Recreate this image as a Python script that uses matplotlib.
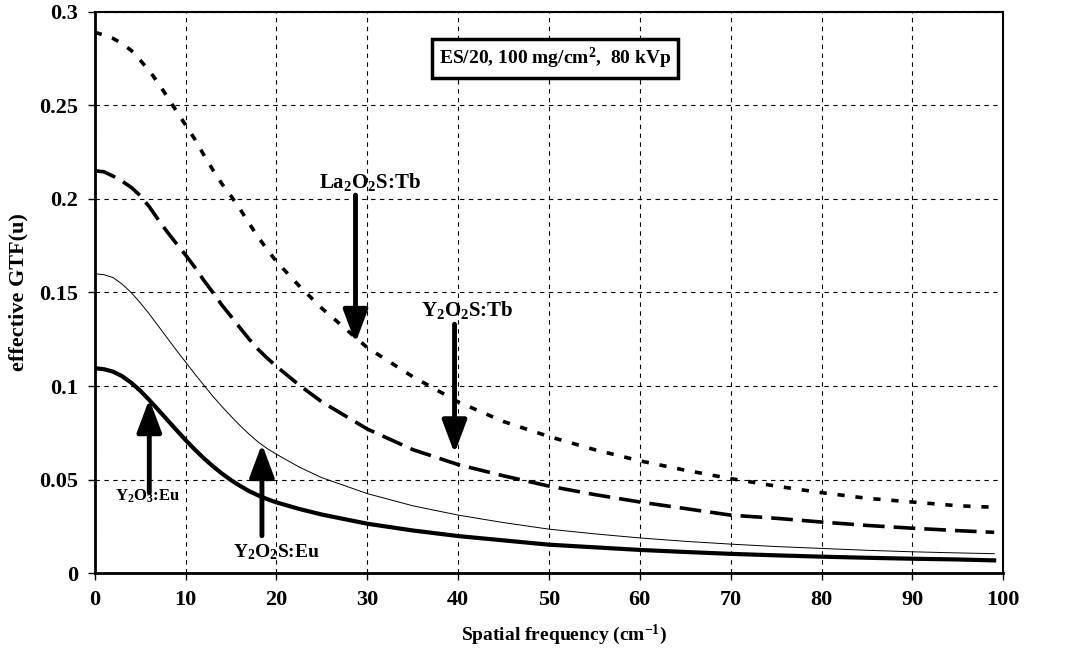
import matplotlib
matplotlib.use("Agg")
import matplotlib.pyplot as plt
import numpy as np

plt.rcParams['font.family'] = 'Liberation Serif'
plt.rcParams['font.weight'] = 'bold'
plt.rcParams['mathtext.fontset'] = 'custom'
plt.rcParams['mathtext.rm'] = 'Liberation Serif:bold'
plt.rcParams['mathtext.bf'] = 'Liberation Serif:bold'
plt.rcParams['mathtext.it'] = 'Liberation Serif:bold'
plt.rcParams['mathtext.default'] = 'bf'

# spatial frequency (cm^-1)
freq = [0, 1, 2, 3, 4, 5, 6, 7, 8, 9, 10, 11, 12, 13, 14, 15, 16, 17, 18, 19, 20,
        22.5, 25, 30, 35, 40, 45, 50, 55, 60, 65, 70, 75, 80, 85, 90, 95, 99]

la2o2s_tb = [0.289, 0.2876, 0.2858, 0.2830, 0.2794, 0.2741, 0.2685, 0.2618,
             0.2544, 0.2468, 0.2395, 0.232, 0.2235, 0.2155, 0.208, 0.2015,
             0.1945, 0.1868, 0.1795, 0.1728, 0.1665,
             0.1535, 0.1415, 0.1205, 0.105, 0.0915, 0.081, 0.073, 0.066, 0.060,
             0.055, 0.0505, 0.0465, 0.043, 0.040, 0.038, 0.036, 0.0352]
y2o2s_tb = [0.215, 0.2145, 0.2122, 0.2095, 0.2062, 0.2018, 0.1958, 0.1888,
            0.1822, 0.176, 0.170, 0.1635, 0.1565, 0.150, 0.1432, 0.1372,
            0.131, 0.125, 0.1195, 0.1148, 0.1105,
            0.1005, 0.0915, 0.077, 0.066, 0.058, 0.052, 0.0465, 0.042, 0.038,
            0.0345, 0.031, 0.0293, 0.0273, 0.0255, 0.024, 0.0227, 0.0218]
y2o2s_eu = [0.160, 0.1595, 0.158, 0.1545, 0.150, 0.1445, 0.1385, 0.132,
            0.1255, 0.119, 0.1128, 0.1065, 0.1005, 0.0945, 0.089, 0.0838,
            0.0788, 0.0742, 0.070, 0.0665, 0.0635,
            0.0567, 0.051, 0.0425, 0.036, 0.031, 0.027, 0.0235, 0.021, 0.0188,
            0.017, 0.0155, 0.0142, 0.0132, 0.0122, 0.0114, 0.0108, 0.0104]
y2o3_eu = [0.1095, 0.1090, 0.1077, 0.1053, 0.1018, 0.0975, 0.0925, 0.0872,
           0.0818, 0.0764, 0.0711, 0.0661, 0.0614, 0.0571, 0.0532, 0.0497,
           0.0466, 0.0438, 0.0415, 0.0395, 0.0378,
           0.0343, 0.0313, 0.0264, 0.0228, 0.0198, 0.0175, 0.0152, 0.0138,
           0.0124, 0.0113, 0.0103, 0.0095, 0.0088, 0.0082, 0.0077, 0.0073,
           0.0068]

fig = plt.figure(figsize=(10.65, 6.55), dpi=100)
ax = fig.add_axes([0.089, 0.125, 0.853, 0.857])

ax.plot(freq, la2o2s_tb, color='black', lw=2.6, ls=(0, (2, 3)))
ax.plot(freq, y2o2s_tb, color='black', lw=2.6, ls=(0, (6, 2.5)))
ax.plot(freq, y2o2s_eu, color='black', lw=0.7)
ax.plot(freq, y2o3_eu, color='black', lw=3)

ax.set_xlim(0, 100)
ax.set_ylim(0, 0.3)
ax.set_xticks(np.arange(0, 101, 10))
ax.set_yticks([0, 0.05, 0.1, 0.15, 0.2, 0.25, 0.3])
ax.set_yticklabels(['0', '0.05', '0.1', '0.15', '0.2', '0.25', '0.3'])
ax.grid(True, color='black', lw=0.8, ls=(0, (4, 4)))
ax.tick_params(labelsize=16, length=5, width=1, pad=7)
for lab in ax.get_xticklabels() + ax.get_yticklabels():
    lab.set_fontweight('bold')
for side in ['left', 'bottom']:
    ax.spines[side].set_linewidth(2)
for side in ['top', 'right']:
    ax.spines[side].set_linewidth(1.5)

ax.set_xlabel('Spatial frequency (cm$^{-1}$)', fontsize=14, fontweight='bold', labelpad=9)
ax.xaxis.label.set_x(0.517)
ax.set_ylabel('effective GTF(u)', fontsize=16, fontweight='bold', labelpad=8)

arrow = dict(arrowstyle='-|>,head_length=2.0,head_width=0.75', color='black', lw=3.5,
             shrinkA=0, shrinkB=0)
ax.annotate('', xy=(28.7, 0.123), xytext=(28.7, 0.202), arrowprops=arrow)
ax.annotate('', xy=(39.6, 0.064), xytext=(39.6, 0.133), arrowprops=arrow)
ax.annotate('', xy=(6.0, 0.093), xytext=(6.0, 0.043), arrowprops=arrow)
ax.annotate('', xy=(18.4, 0.069), xytext=(18.4, 0.020), arrowprops=arrow)

ax.text(30.3, 0.203, 'La$_2$O$_2$S:Tb', fontsize=15, ha='center', va='bottom')
ax.text(41.0, 0.135, 'Y$_2$O$_2$S:Tb', fontsize=15, ha='center', va='bottom')
ax.text(5.8, 0.041, 'Y$_2$O$_3$:Eu', fontsize=12, ha='center', va='center')
ax.text(20.0, 0.011, 'Y$_2$O$_2$S:Eu', fontsize=14, ha='center', va='center')

ax.text(0.507, 0.917, 'ES/20, 100 mg/cm$^2$,  80 kVp', transform=ax.transAxes,
        fontsize=14, ha='center', va='center',
        bbox=dict(boxstyle='square,pad=0.35', fc='white', ec='black', lw=2.5))

fig.savefig('out.png', dpi=100)
